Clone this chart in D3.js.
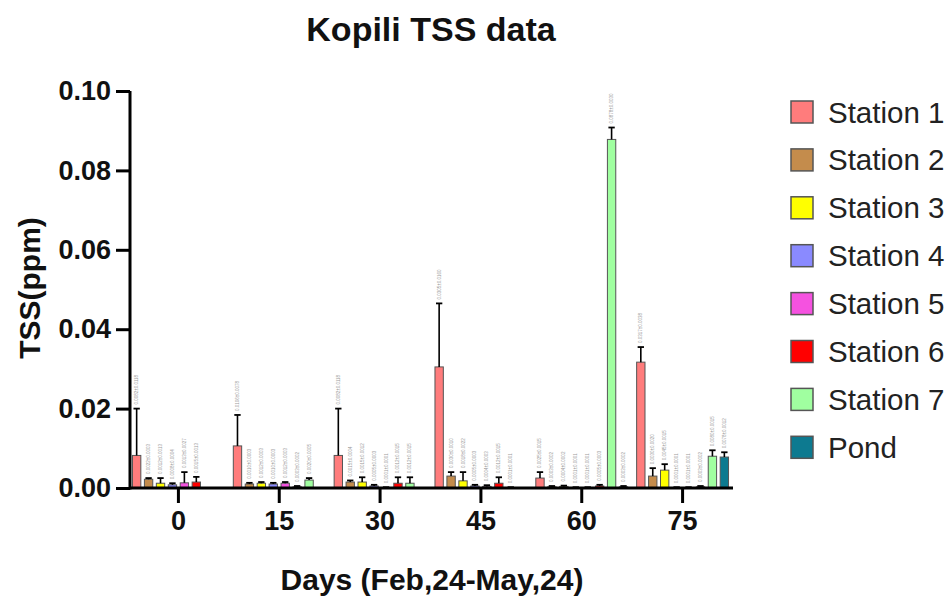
<!DOCTYPE html>
<html>
<head>
<meta charset="utf-8">
<script src="https://cdn.jsdelivr.net/npm/d3@7"></script>
<style>
  body { margin: 0; background: #fff; }
  svg { display: block; font-family: "Liberation Sans", Arial, sans-serif; }
</style>
</head>
<body>
<svg id="chart" width="952" height="597"></svg>
<script>
const days = ['0', '15', '30', '45', '60', '75']
const stations = ['Station 1', 'Station 2', 'Station 3', 'Station 4', 'Station 5', 'Station 6', 'Station 7', 'Pond']
const colors = ['#ff7c7c', '#c48c4c', '#ffff00', '#8a8aff', '#f552e0', '#ff0000', '#a0ffa0', '#0d7a90']
const yTicks = [0, 0.02, 0.04, 0.06, 0.08, 0.10]

// mean TSS per day, one row per day, one column per station (null = no data)
const means = [
  [0.0082, 0.0022, 0.0012, 0.0008, 0.0013, 0.0015, null, null],
  [0.0106, 0.0010, 0.0012, 0.0010, 0.0012, 0.0003, 0.0020, null],
  [0.0082, 0.0015, 0.0015, 0.0005, 0.0001, 0.0012, 0.0012, null],
  [0.0305, 0.0030, 0.0018, 0.0005, 0.0004, 0.0012, 0.0001, null],
  [0.0025, 0.0003, 0.0004, 0.0001, 0.0001, 0.0005, 0.0878, 0.0003],
  [0.0317, 0.0030, 0.0045, 0.0001, 0.0001, 0.0003, 0.0080, 0.0078]
]
// standard deviation (upper error bar)
const errs = [
  [0.0118, 0.0003, 0.0013, 0.0004, 0.0027, 0.0013, null, null],
  [0.0078, 0.0003, 0.0003, 0.0003, 0.0003, 0.0002, 0.0005, null],
  [0.0118, 0.0004, 0.0012, 0.0003, 0.0001, 0.0015, 0.0015, null],
  [0.0160, 0.0010, 0.0022, 0.0003, 0.0003, 0.0015, 0.0001, null],
  [0.0015, 0.0002, 0.0002, 0.0001, 0.0001, 0.0003, 0.0030, 0.0002],
  [0.0038, 0.0020, 0.0015, 0.0001, 0.0001, 0.0002, 0.0015, 0.0012]
]

const svg = d3.select('#chart')

const x0 = d3.scaleBand().domain(days).range([128, 733]).paddingInner(0.065).paddingOuter(0.0325)
const x1 = d3.scaleBand().domain(stations).range([0, x0.bandwidth()]).paddingInner(0.3).paddingOuter(0.1)
const y = d3.scaleLinear().domain([0, 0.1]).range([488, 91])
const fmt = d3.format('.4f')

const rows = []
days.forEach((d, i) => {
  stations.forEach((s, j) => {
    if (means[i][j] == null) return
    rows.push({ day: d, station: s, color: colors[j], mean: means[i][j], err: errs[i][j] })
  })
})

// bars
const g = svg.append('g')
g.selectAll('rect.bar')
  .data(rows)
  .join('rect')
  .attr('class', 'bar')
  .attr('x', (d) => x0(d.day) + x1(d.station))
  .attr('width', x1.bandwidth())
  .attr('y', (d) => y(d.mean))
  .attr('height', (d) => y(0) - y(d.mean))
  .attr('fill', (d) => d.color)
  .attr('stroke', '#555')
  .attr('stroke-width', 1)

// error bars (upper only)
const cx = (d) => x0(d.day) + x1(d.station) + x1.bandwidth() / 2
g.selectAll('line.err')
  .data(rows)
  .join('line')
  .attr('x1', cx).attr('x2', cx)
  .attr('y1', (d) => y(d.mean))
  .attr('y2', (d) => y(d.mean + d.err))
  .attr('stroke', '#000')
  .attr('stroke-width', 1.6)
g.selectAll('line.cap')
  .data(rows)
  .join('line')
  .attr('x1', (d) => cx(d) - x1.bandwidth() / 2 + 1)
  .attr('x2', (d) => cx(d) + x1.bandwidth() / 2 - 1)
  .attr('y1', (d) => y(d.mean + d.err))
  .attr('y2', (d) => y(d.mean + d.err))
  .attr('stroke', '#000')
  .attr('stroke-width', 1.8)

// tiny value labels
g.selectAll('text.val')
  .data(rows)
  .join('text')
  .attr('transform', (d) => `translate(${cx(d) + 1.5},${y(d.mean + d.err) - 4}) rotate(-90)`)
  .attr('font-size', 4.5)
  .attr('fill', '#9a9a9a')
  .text((d) => `${fmt(d.mean)}±${fmt(d.err)}`)

// axes
const yAxis = svg.append('g')
  .attr('transform', 'translate(130,0)')
  .call(d3.axisLeft(y).tickValues(yTicks).tickFormat(d3.format('.2f')).tickSize(14).tickPadding(5))
const xAxis = svg.append('g')
  .attr('transform', `translate(0,${y(0)})`)
  .call(d3.axisBottom(x0).tickSize(15).tickPadding(8).tickSizeOuter(0))

for (const ax of [yAxis, xAxis]) {
  ax.select('.domain').attr('stroke', '#000').attr('stroke-width', 3)
  ax.selectAll('.tick line').attr('stroke', '#000').attr('stroke-width', 3)
  ax.selectAll('.tick text')
    .attr('fill', '#111')
    .attr('font-size', 27)
    .attr('font-weight', 'bold')
    .attr('font-family', '"Liberation Sans", Arial, sans-serif')
}
xAxis.select('.domain').attr('d', `M130,0H733`)
yAxis.select('.domain').attr('d', `M0,${y(0.1)}V${y(0) + 1.5}`)

// titles
svg.append('text')
  .attr('x', 431).attr('y', 41)
  .attr('text-anchor', 'middle')
  .attr('font-size', 34).attr('font-weight', 'bold').attr('fill', '#111')
  .text('Kopili TSS data')
svg.append('text')
  .attr('x', 432).attr('y', 590)
  .attr('text-anchor', 'middle')
  .attr('font-size', 30).attr('font-weight', 'bold').attr('fill', '#111')
  .text('Days (Feb,24-May,24)')
svg.append('text')
  .attr('transform', 'translate(40,288) rotate(-90)')
  .attr('text-anchor', 'middle')
  .attr('font-size', 30).attr('font-weight', 'bold').attr('fill', '#111')
  .text('TSS(ppm)')

// legend
const leg = svg.append('g')
  .selectAll('g')
  .data(stations)
  .join('g')
  .attr('transform', (d, i) => `translate(791,${112 + i * 47.9})`)
leg.append('rect')
  .attr('x', 0).attr('y', -11)
  .attr('width', 22).attr('height', 22)
  .attr('fill', (d, i) => colors[i])
  .attr('stroke', '#555').attr('stroke-width', 1.5)
leg.append('text')
  .attr('x', 37).attr('y', 10.5)
  .attr('font-size', 29.5).attr('fill', '#222')
  .text((d) => d)
</script>
</body>
</html>
